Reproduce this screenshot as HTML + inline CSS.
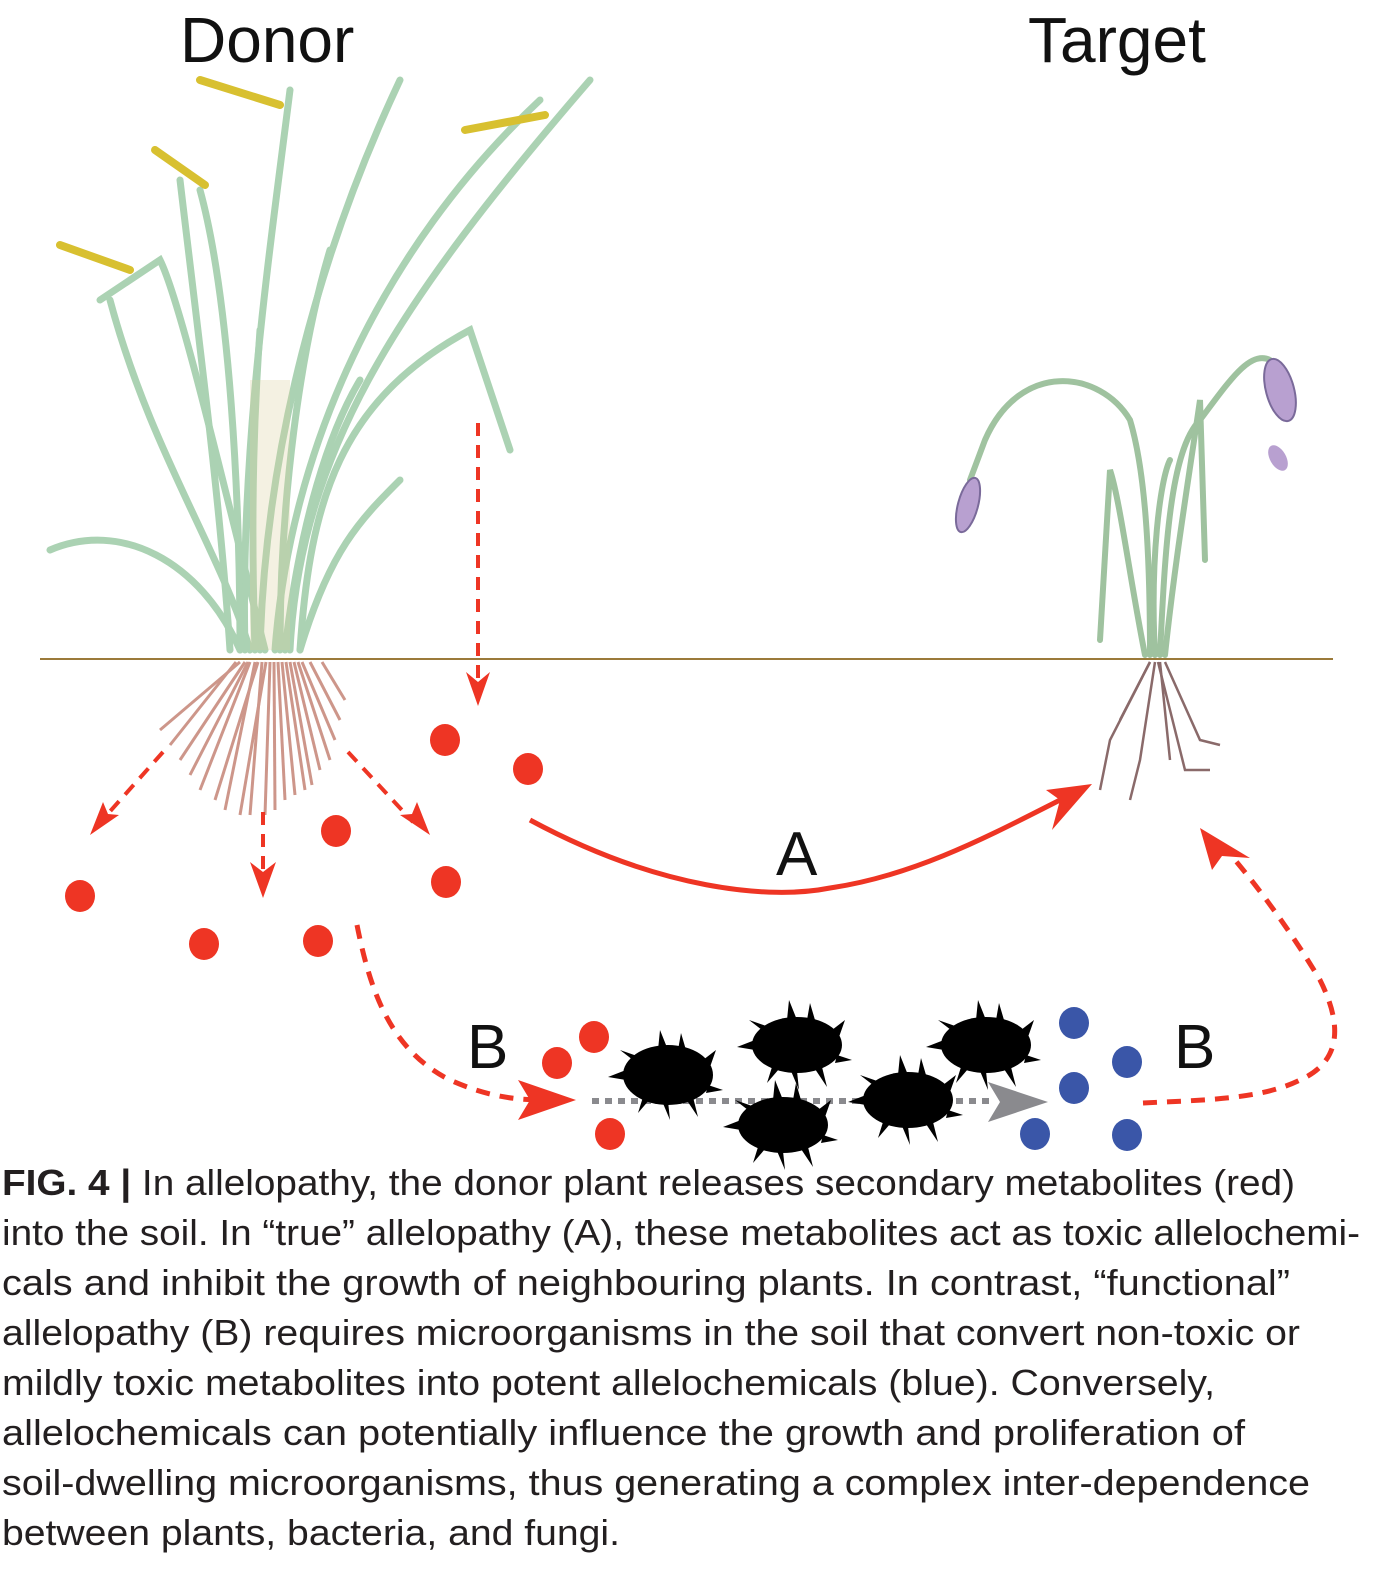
<!DOCTYPE html>
<html><head><meta charset="utf-8"><style>
html,body{margin:0;padding:0;background:#fff;}
svg{display:block;}
</style></head><body>
<svg width="1374" height="1571" viewBox="0 0 1374 1571" xmlns="http://www.w3.org/2000/svg">
<text x="180" y="62" font-family="Liberation Sans, sans-serif" font-size="64" fill="#111">Donor</text>
<text x="1028" y="62" font-family="Liberation Sans, sans-serif" font-size="64" fill="#111">Target</text>

<!-- donor plant -->
<g stroke="#8fc49a" stroke-width="7" fill="none" stroke-linecap="round" opacity="0.75">
<path d="M230 650 C220 500 200 350 180 180"/>
<path d="M245 650 C240 450 270 250 290 90"/>
<path d="M260 650 C265 450 320 250 400 80"/>
<path d="M275 650 C290 450 380 250 540 100"/>
<path d="M290 650 C300 450 400 300 590 80"/>
<path d="M300 650 C310 500 340 400 470 330 L510 450"/>
<path d="M250 650 C220 550 150 450 110 300"/>
<path d="M240 650 C200 560 120 520 50 550"/>
<path d="M265 650 C220 470 180 300 160 260 L100 300"/>
<path d="M300 650 C330 550 360 520 400 480"/>
<path d="M240 650 C240 500 230 300 200 190"/>
<path d="M280 650 C280 500 300 350 330 250"/>
<path d="M255 650 C250 500 255 400 260 330"/>
<path d="M285 650 C300 520 330 430 360 380"/>
</g>
<g stroke="#d9d0a0" stroke-width="40" fill="none" opacity="0.3"><path d="M270 650 L270 380"/></g>
<g stroke="#d8c030" stroke-width="8" stroke-linecap="round">
<path d="M200 80 L280 105"/><path d="M155 150 L205 185"/><path d="M60 245 L130 270"/><path d="M465 130 L545 115"/>
</g>
<!-- roots -->
<g stroke="#b86b5a" stroke-width="3" fill="none" opacity="0.7">
<path d="M240 662 L160 730"/><path d="M245 662 L180 760"/><path d="M250 662 L200 790"/><path d="M255 662 L225 810"/>
<path d="M262 662 L250 815"/><path d="M270 662 L265 815"/><path d="M278 662 L285 800"/><path d="M286 662 L305 790"/>
<path d="M294 662 L320 770"/><path d="M302 662 L335 740"/><path d="M310 662 L340 720"/><path d="M322 662 L345 700"/>
<path d="M258 662 L215 800"/><path d="M266 662 L240 815"/><path d="M274 662 L275 810"/><path d="M290 662 L312 785"/>
<path d="M236 662 L170 745"/><path d="M282 662 L295 795"/><path d="M298 662 L330 760"/><path d="M248 662 L190 775"/>
</g>

<!-- target plant -->
<g stroke="#8fb88f" stroke-width="6" fill="none" stroke-linecap="round" opacity="0.85">
<path d="M1150 655 C1150 550 1145 470 1130 420 C1100 370 1020 360 985 440 L970 480"/>
<path d="M1160 655 C1165 550 1170 450 1200 420 C1230 380 1250 350 1270 360"/>
<path d="M1145 655 C1130 580 1120 500 1110 470 L1100 640"/>
<path d="M1165 655 C1175 560 1190 470 1200 400 L1205 560"/>
<path d="M1155 655 C1150 560 1160 480 1170 460"/>
</g>
<ellipse cx="968" cy="505" rx="10" ry="28" fill="#b8a0d0" stroke="#7a6a9a" stroke-width="2" transform="rotate(15 968 505)"/>
<ellipse cx="1280" cy="390" rx="14" ry="32" fill="#b8a0d0" stroke="#7a6a9a" stroke-width="2" transform="rotate(-15 1280 390)"/>
<ellipse cx="1278" cy="458" rx="8" ry="14" fill="#b8a0d0" transform="rotate(-30 1278 458)"/>
<g stroke="#8a6a6a" stroke-width="2.5" fill="none">
<path d="M1150 662 L1110 740 L1100 790"/><path d="M1155 662 L1140 760 L1130 800"/><path d="M1160 662 L1170 760"/>
<path d="M1165 662 L1200 740 L1220 745"/><path d="M1158 662 L1185 770 L1210 770"/><path d="M1150 662 L1120 720"/>
</g>

<!-- ground -->
<line x1="40" y1="659" x2="1333" y2="659" stroke="#9b7a3a" stroke-width="2"/>

<!-- dashed arrows from donor -->
<g stroke="#ee3524" stroke-width="4" stroke-dasharray="13 9" fill="none">
<path d="M478 423 L478 690"/>
<path d="M163 752 L105 817"/>
<path d="M263 812 L263 870"/>
<path d="M348 752 L413 822"/>
</g>
<g fill="#ee3524">
<polygon points="478,706 466,672 478,682 490,672"/>
<polygon points="90,835 103,802 108,814 119,815"/>
<polygon points="263,898 250,862 263,872 276,862"/>
<polygon points="430,835 417,802 412,814 400,815"/>
</g>

<!-- red dots -->
<g fill="#ee3524">
<ellipse cx="445" cy="740" rx="15" ry="16"/><ellipse cx="528" cy="769" rx="15" ry="16"/>
<ellipse cx="336" cy="831" rx="15" ry="16"/><ellipse cx="446" cy="882" rx="15" ry="16"/>
<ellipse cx="80" cy="896" rx="15" ry="16"/><ellipse cx="204" cy="944" rx="15" ry="16"/>
<ellipse cx="318" cy="941" rx="15" ry="16"/>
<ellipse cx="557" cy="1063" rx="15" ry="16"/><ellipse cx="594" cy="1037" rx="15" ry="16"/>
<ellipse cx="610" cy="1134" rx="15" ry="16"/>
</g>
<!-- blue dots -->
<g fill="#3a56a8">
<ellipse cx="1074" cy="1023" rx="15" ry="16"/><ellipse cx="1127" cy="1062" rx="15" ry="16"/>
<ellipse cx="1074" cy="1088" rx="15" ry="16"/><ellipse cx="1035" cy="1134" rx="15" ry="16"/>
<ellipse cx="1127" cy="1135" rx="15" ry="16"/>
</g>

<!-- arrow A -->
<path d="M530 820 C660 890 770 900 830 888 C920 875 1000 830 1070 795" stroke="#ee3524" stroke-width="5" fill="none"/>
<polygon points="1092,784 1046,790 1060,800 1052,830" fill="#ee3524"/>
<text x="776" y="875" font-family="Liberation Sans, sans-serif" font-size="62" fill="#111">A</text>

<!-- B left -->
<path d="M357 925 C370 990 390 1050 450 1080 C490 1098 520 1100 545 1100" stroke="#ee3524" stroke-width="5" stroke-dasharray="14 10" fill="none"/>
<polygon points="576,1100 518,1080 530,1100 518,1120" fill="#ee3524"/>
<text x="467" y="1068" font-family="Liberation Sans, sans-serif" font-size="62" fill="#111">B</text>

<!-- gray dotted -->
<line x1="592" y1="1101" x2="990" y2="1101" stroke="#8a8a8e" stroke-width="6" stroke-dasharray="7 6"/>
<polygon points="1048,1102 988,1082 1000,1102 988,1122" fill="#8a8a8e"/>

<!-- microbes -->
<g fill="#000">
<g transform="translate(668,1075)"><ellipse rx="45" ry="30"/><path d="M-10 -25 L-8 -45 L0 -25 Z M10 -25 L13 -42 L18 -25 Z M35 -15 L48 -25 L42 -8 Z M40 10 L55 15 L38 18 Z M25 22 L30 42 L18 24 Z M0 26 L2 45 L-6 26 Z M-25 22 L-30 38 L-18 24 Z M-42 5 L-60 2 L-42 -5 Z M-35 -15 L-48 -25 L-28 -18 Z"/></g>
<g transform="translate(797,1045)"><ellipse rx="45" ry="28"/><path d="M-10 -25 L-8 -45 L0 -25 Z M10 -25 L13 -42 L18 -25 Z M35 -15 L48 -25 L42 -8 Z M40 10 L55 15 L38 18 Z M25 22 L30 42 L18 24 Z M0 26 L2 45 L-6 26 Z M-25 22 L-30 38 L-18 24 Z M-42 5 L-60 2 L-42 -5 Z M-35 -15 L-48 -25 L-28 -18 Z"/></g>
<g transform="translate(986,1045)"><ellipse rx="45" ry="28"/><path d="M-10 -25 L-8 -45 L0 -25 Z M10 -25 L13 -42 L18 -25 Z M35 -15 L48 -25 L42 -8 Z M40 10 L55 15 L38 18 Z M25 22 L30 42 L18 24 Z M0 26 L2 45 L-6 26 Z M-25 22 L-30 38 L-18 24 Z M-42 5 L-60 2 L-42 -5 Z M-35 -15 L-48 -25 L-28 -18 Z"/></g>
<g transform="translate(783,1125)"><ellipse rx="45" ry="28"/><path d="M-10 -25 L-8 -45 L0 -25 Z M10 -25 L13 -42 L18 -25 Z M35 -15 L48 -25 L42 -8 Z M40 10 L55 15 L38 18 Z M25 22 L30 42 L18 24 Z M0 26 L2 45 L-6 26 Z M-25 22 L-30 38 L-18 24 Z M-42 5 L-60 2 L-42 -5 Z M-35 -15 L-48 -25 L-28 -18 Z"/></g>
<g transform="translate(908,1100)"><ellipse rx="45" ry="28"/><path d="M-10 -25 L-8 -45 L0 -25 Z M10 -25 L13 -42 L18 -25 Z M35 -15 L48 -25 L42 -8 Z M40 10 L55 15 L38 18 Z M25 22 L30 42 L18 24 Z M0 26 L2 45 L-6 26 Z M-25 22 L-30 38 L-18 24 Z M-42 5 L-60 2 L-42 -5 Z M-35 -15 L-48 -25 L-28 -18 Z"/></g>
</g>

<!-- B right -->
<path d="M1143 1103 C1200 1100 1260 1100 1300 1080 C1345 1060 1340 1020 1320 980 C1290 930 1260 890 1235 860" stroke="#ee3524" stroke-width="5" stroke-dasharray="14 10" fill="none"/>
<polygon points="1200,828 1212,870 1222,856 1250,858" fill="#ee3524"/>
<text x="1174" y="1068" font-family="Liberation Sans, sans-serif" font-size="62" fill="#111">B</text>

<!-- caption -->
<g font-family="Liberation Sans, sans-serif" font-size="36" fill="#231f20">
<text x="2" y="1195" textLength="1293" lengthAdjust="spacingAndGlyphs"><tspan font-weight="bold">FIG. 4 |</tspan> In allelopathy, the donor plant releases secondary metabolites (red)</text>
<text x="2" y="1245" textLength="1358" lengthAdjust="spacingAndGlyphs">into the soil. In “true” allelopathy (A), these metabolites act as toxic allelochemi-</text>
<text x="2" y="1295" textLength="1288" lengthAdjust="spacingAndGlyphs">cals and inhibit the growth of neighbouring plants. In contrast, “functional”</text>
<text x="2" y="1345" textLength="1298" lengthAdjust="spacingAndGlyphs">allelopathy (B) requires microorganisms in the soil that convert non-toxic or</text>
<text x="2" y="1395" textLength="1213" lengthAdjust="spacingAndGlyphs">mildly toxic metabolites into potent allelochemicals (blue). Conversely,</text>
<text x="2" y="1445" textLength="1243" lengthAdjust="spacingAndGlyphs">allelochemicals can potentially influence the growth and proliferation of</text>
<text x="2" y="1495" textLength="1308" lengthAdjust="spacingAndGlyphs">soil-dwelling microorganisms, thus generating a complex inter-dependence</text>
<text x="2" y="1545" textLength="618" lengthAdjust="spacingAndGlyphs">between plants, bacteria, and fungi.</text>
</g>
</svg>
</body></html>
